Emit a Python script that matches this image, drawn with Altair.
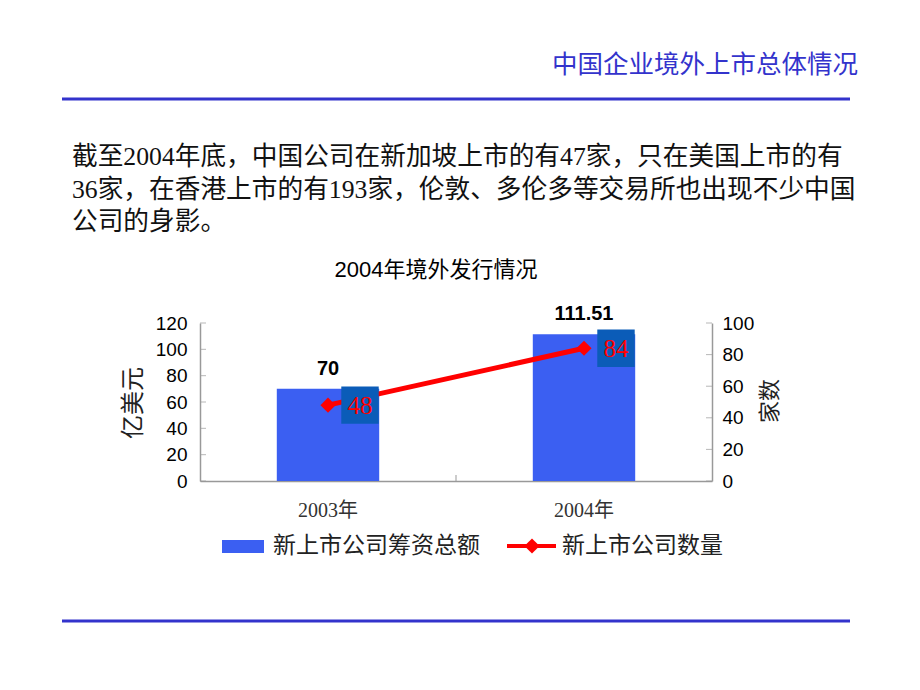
import altair as alt
import pandas as pd

# ---- data ----
years = ["2003年", "2004年"]
funds = [70, 111.51]          # 新上市公司筹资总额 (亿美元)
funds_text = ["70", "111.51"]
counts = [48, 84]             # 新上市公司数量 (家)
left_ticks = [0, 20, 40, 60, 80, 100, 120]
right_ticks = [0, 20, 40, 60, 80, 100]

df = pd.DataFrame({"year": years, "funds": funds, "funds_text": funds_text, "count": counts})
df_lt = pd.DataFrame({"v": left_ticks})
df_rt = pd.DataFrame({"v": right_ticks})

W, H = 512, 158
CJK = "Noto Sans CJK SC"
SERIF = "Liberation Serif, Noto Sans CJK SC"
SANS = "Liberation Sans, Noto Sans CJK SC"
BLUE_HDR = "#3333cc"
BAR = "#3b5ff2"
BOX = "#0b5cb8"
RED = "#ff0000"

xaxis = alt.Axis(title=None, labelAngle=0, labelFont=SERIF, labelFontSize=20,
                 labelColor="#333333", ticks=False, labelPadding=19,
                 domainColor="#999999", domainWidth=1.5)
laxis = alt.Axis(title=None, values=left_ticks, grid=False, ticks=False,
                 labelFont=SANS, labelFontSize=19, labelColor="#000000",
                 labelPadding=13, domainColor="#999999", domainWidth=1.5)
raxis = alt.Axis(title=None, orient="right", values=right_ticks, grid=False,
                 ticks=False, labelFont=SANS, labelFontSize=19,
                 labelColor="#000000", labelPadding=10,
                 domainColor="#999999", domainWidth=1.5)

xscale = alt.Scale(paddingInner=0.6, paddingOuter=0.3)
lscale = alt.Scale(domain=[0, 120])
rscale = alt.Scale(domain=[0, 100])

xenc = alt.X("year:N", sort=years, scale=xscale, axis=xaxis)


def ly(field):
    return alt.Y(field, scale=lscale, axis=laxis)


def ry(field):
    return alt.Y(field, scale=rscale, axis=raxis)


base = alt.Chart(df)

bars = base.mark_bar(color=BAR).encode(x=xenc, y=ly("funds:Q"))
bar_labels = base.mark_text(font=SANS, fontSize=20, fontWeight="bold", color="#000000",
                            baseline="bottom", dy=-10).encode(
    x=xenc, y=ly("funds:Q"), text="funds_text:N")
lticks = alt.Chart(df_lt).mark_tick(orient="horizontal", size=6, thickness=1,
                                     color="#999999").encode(
    y=ly("v:Q"), x=alt.value(3))

left = alt.layer(bars, bar_labels, lticks)

line = base.mark_line(color=RED, strokeWidth=5).encode(x=xenc, y=ry("count:Q"))
pts = base.mark_point(shape="diamond", filled=True, size=230, color=RED, opacity=1).encode(
    x=xenc, y=ry("count:Q"))
boxes = base.mark_square(size=1400, color=BOX, opacity=1, xOffset=32).encode(
    x=xenc, y=ry("count:Q"))
box_text = base.mark_text(font="Liberation Serif", fontSize=25, color=RED,
                          baseline="middle", xOffset=32, dy=1).encode(
    x=xenc, y=ry("count:Q"), text="count:Q")
rticks = alt.Chart(df_rt).mark_tick(orient="horizontal", size=6, thickness=1,
                                     color="#999999").encode(
    y=ry("v:Q"), x=alt.value(W - 3))

right = alt.layer(line, boxes, box_text, pts, rticks)

one = alt.Data(values=[{"a": 1}])


def txt(text, x, y, **kw):
    return alt.Chart(one).mark_text(text=text, **kw).encode(x=alt.value(x), y=alt.value(y))


def hline(x1, x2, y, color, width):
    return alt.Chart(one).mark_rule(color=color, strokeWidth=width).encode(
        x=alt.value(x1), x2=alt.value(x2), y=alt.value(y))


deco = [
    txt("中国企业境外上市总体情况", 658, -258, font=CJK, fontSize=25.5, color=BLUE_HDR,
        align="right", baseline="middle"),
    hline(-138, 650, -224, BLUE_HDR, 3),
    txt("截至2004年底，中国公司在新加坡上市的有47家，只在美国上市的有", -128, -166,
        font=SERIF, fontSize=25.7, color="#111111", align="left", baseline="middle"),
    txt("36家，在香港上市的有193家，伦敦、多伦多等交易所也出现不少中国", -128, -133,
        font=SERIF, fontSize=25.7, color="#111111", align="left", baseline="middle"),
    txt("公司的身影。", -128, -101,
        font=SERIF, fontSize=25.7, color="#111111", align="left", baseline="middle"),
    txt("2004年境外发行情况", 236, -53, font=SANS, fontSize=22, color="#000000",
        align="center", baseline="middle"),
    txt("亿美元", -66, 80, font=CJK, fontSize=24, color="#222222", angle=270,
        align="center", baseline="middle"),
    txt("家数", 570, 78, font=CJK, fontSize=22, color="#222222", angle=270,
        align="center", baseline="middle"),
    # legend
    alt.Chart(one).mark_rect(color=BAR).encode(
        x=alt.value(22), x2=alt.value(64), y=alt.value(217), y2=alt.value(230)),
    txt("新上市公司筹资总额", 73, 223, font=CJK, fontSize=23, color="#222222",
        align="left", baseline="middle"),
    hline(307, 356, 223, RED, 4),
    alt.Chart(one).mark_point(shape="diamond", filled=True, size=230, color=RED,
                              opacity=1).encode(x=alt.value(332), y=alt.value(223)),
    txt("新上市公司数量", 362, 223, font=CJK, fontSize=23, color="#222222",
        align="left", baseline="middle"),
    # middle x tick
    alt.Chart(one).mark_rule(color="#999999", strokeWidth=1).encode(
        x=alt.value(W / 2), y=alt.value(H - 6), y2=alt.value(H)),
    hline(-138, 650, 298, BLUE_HDR, 3),
]

chart = alt.layer(left, right, *deco).resolve_scale(y="independent").properties(
    width=W, height=H,
    autosize=alt.AutoSizeParams(type="none"),
    padding={"left": 192, "top": 315, "right": 190, "bottom": 190},
    background="#ffffff",
).configure_view(stroke=None)

chart.save("out.html", embed_options={"renderer": "svg", "actions": False})
